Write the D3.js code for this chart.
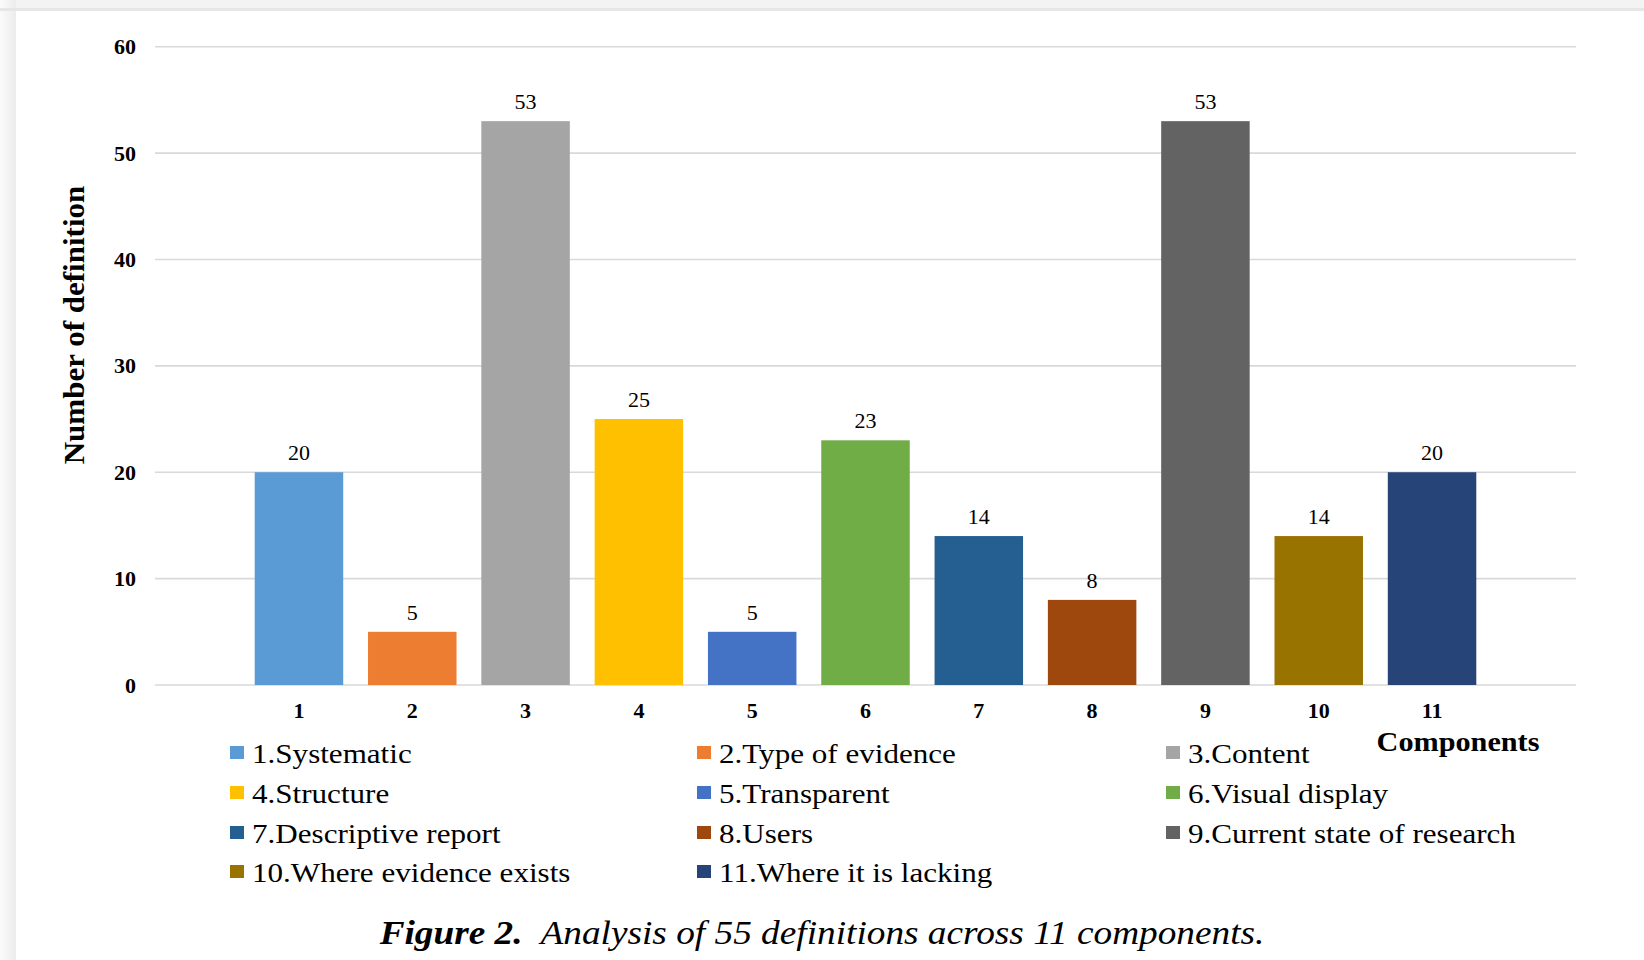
<!DOCTYPE html>
<html>
<head>
<meta charset="utf-8">
<script src="https://cdn.jsdelivr.net/npm/d3@7"></script>
<style>
  html, body { margin: 0; padding: 0; background: #ffffff; }
  svg { display: block; }
  text { font-family: "Liberation Serif", "Times New Roman", serif; fill: #000; }
</style>
</head>
<body>
<svg id="chart" width="1644" height="960"></svg>
<script>
// Component numbers on the x axis
const categories = ["1", "2", "3", "4", "5", "6", "7", "8", "9", "10", "11"];
// Number of definitions mentioning each component
const counts = [20, 5, 53, 25, 5, 23, 14, 8, 53, 14, 20];
// Legend names for each component
const componentNames = [
  "1.Systematic", "2.Type of evidence", "3.Content",
  "4.Structure", "5.Transparent", "6.Visual display",
  "7.Descriptive report", "8.Users", "9.Current state of research",
  "10.Where evidence exists", "11.Where it is lacking"
];
// Bar fill colours, one per component
const barColors = [
  "#5B9BD5", "#ED7D31", "#A5A5A5", "#FFC000", "#4472C4", "#70AD47",
  "#255E91", "#9E480E", "#636363", "#997300", "#264478"
];
const yTicks = [0, 10, 20, 30, 40, 50, 60];

const svg = d3.select("#chart");
const W = 1644, H = 960;

// page frame: light grey margin on the top and left edges
svg.append("rect").attr("width", W).attr("height", H).attr("fill", "#f3f3f3");
const frameGrad = svg.append("defs").append("linearGradient")
  .attr("id", "leftShade").attr("x1", 0).attr("x2", 1);
frameGrad.append("stop").attr("offset", 0).attr("stop-color", "#fbfbfb");
frameGrad.append("stop").attr("offset", 1).attr("stop-color", "#ececec");
svg.append("rect").attr("x", 0).attr("y", 0).attr("width", 16).attr("height", H)
  .attr("fill", "url(#leftShade)");
svg.append("rect").attr("x", 0).attr("y", 8).attr("width", W).attr("height", 3).attr("fill", "#e6e6e6");
svg.append("rect").attr("x", 16).attr("y", 11).attr("width", W - 16).attr("height", H - 11).attr("fill", "#ffffff");

// scales
const x = d3.scaleBand()
  .domain(categories)
  .range([155, 1576])
  .paddingInner(0.219)
  .paddingOuter(0.88);

const y = d3.scaleLinear()
  .domain([0, 60])
  .range([685, 46.7]);

// horizontal gridlines
svg.append("g").selectAll("line")
  .data(yTicks)
  .join("line")
  .attr("x1", 155).attr("x2", 1576)
  .attr("y1", d => y(d)).attr("y2", d => y(d))
  .attr("stroke", "#d9d9d9").attr("stroke-width", 1.6);

// y axis tick labels
const yAxis = d3.axisLeft(y).tickValues(yTicks).tickSize(0).tickPadding(0);
const yAxisG = svg.append("g").attr("transform", "translate(136,0)").call(yAxis);
yAxisG.select(".domain").remove();
yAxisG.selectAll("text")
  .attr("font-family", "Liberation Serif, serif")
  .attr("font-size", 22).attr("font-weight", "bold")
  .attr("fill", "#000");

// x axis tick labels
const xAxis = d3.axisBottom(x).tickSize(0).tickPadding(0);
const xAxisG = svg.append("g").attr("transform", "translate(0,702)").call(xAxis);
xAxisG.select(".domain").remove();
xAxisG.selectAll("text")
  .attr("font-family", "Liberation Serif, serif")
  .attr("font-size", 22).attr("font-weight", "bold")
  .attr("fill", "#000");

// bars
svg.append("g").selectAll("rect")
  .data(counts)
  .join("rect")
  .attr("x", (d, i) => x(categories[i]))
  .attr("width", x.bandwidth())
  .attr("y", d => y(d))
  .attr("height", d => y(0) - y(d))
  .attr("fill", (d, i) => barColors[i]);

// value labels above the bars
svg.append("g").selectAll("text")
  .data(counts)
  .join("text")
  .attr("x", (d, i) => x(categories[i]) + x.bandwidth() / 2)
  .attr("y", d => y(d) - 12)
  .attr("text-anchor", "middle")
  .attr("font-size", 22)
  .text(d => d);

// axis titles (the typeface is set a little wide)
svg.append("text")
  .attr("transform", "translate(84,325) rotate(-90) scale(1.07,1)")
  .attr("text-anchor", "middle")
  .attr("font-size", 29).attr("font-weight", "bold")
  .text("Number of definition");

svg.append("text")
  .attr("transform", "translate(1458,751) scale(1.08,1)")
  .attr("text-anchor", "middle")
  .attr("font-size", 28).attr("font-weight", "bold")
  .text("Components");

// legend: three columns, four rows
const legendCols = [230, 697, 1166];
const legendRows = [753, 793, 833, 872];
const legend = svg.append("g").selectAll("g")
  .data(componentNames)
  .join("g")
  .attr("transform", (d, i) => `translate(${legendCols[i % 3]},${legendRows[Math.floor(i / 3)]})`);
legend.append("rect")
  .attr("x", 0).attr("y", -7).attr("width", 14).attr("height", 13)
  .attr("fill", (d, i) => barColors[i]);
legend.append("text")
  .attr("transform", "translate(22,10) scale(1.11,1)")
  .attr("font-size", 28)
  .text(d => d);

// figure caption
const caption = svg.append("text")
  .attr("transform", "translate(822,944) scale(1.13,1)")
  .attr("text-anchor", "middle")
  .attr("font-size", 33).attr("font-style", "italic");
caption.append("tspan").attr("font-weight", "bold").text("Figure 2.");
caption.append("tspan").text("\u00a0 Analysis of 55 definitions across 11 components.");
</script>
</body>
</html>
